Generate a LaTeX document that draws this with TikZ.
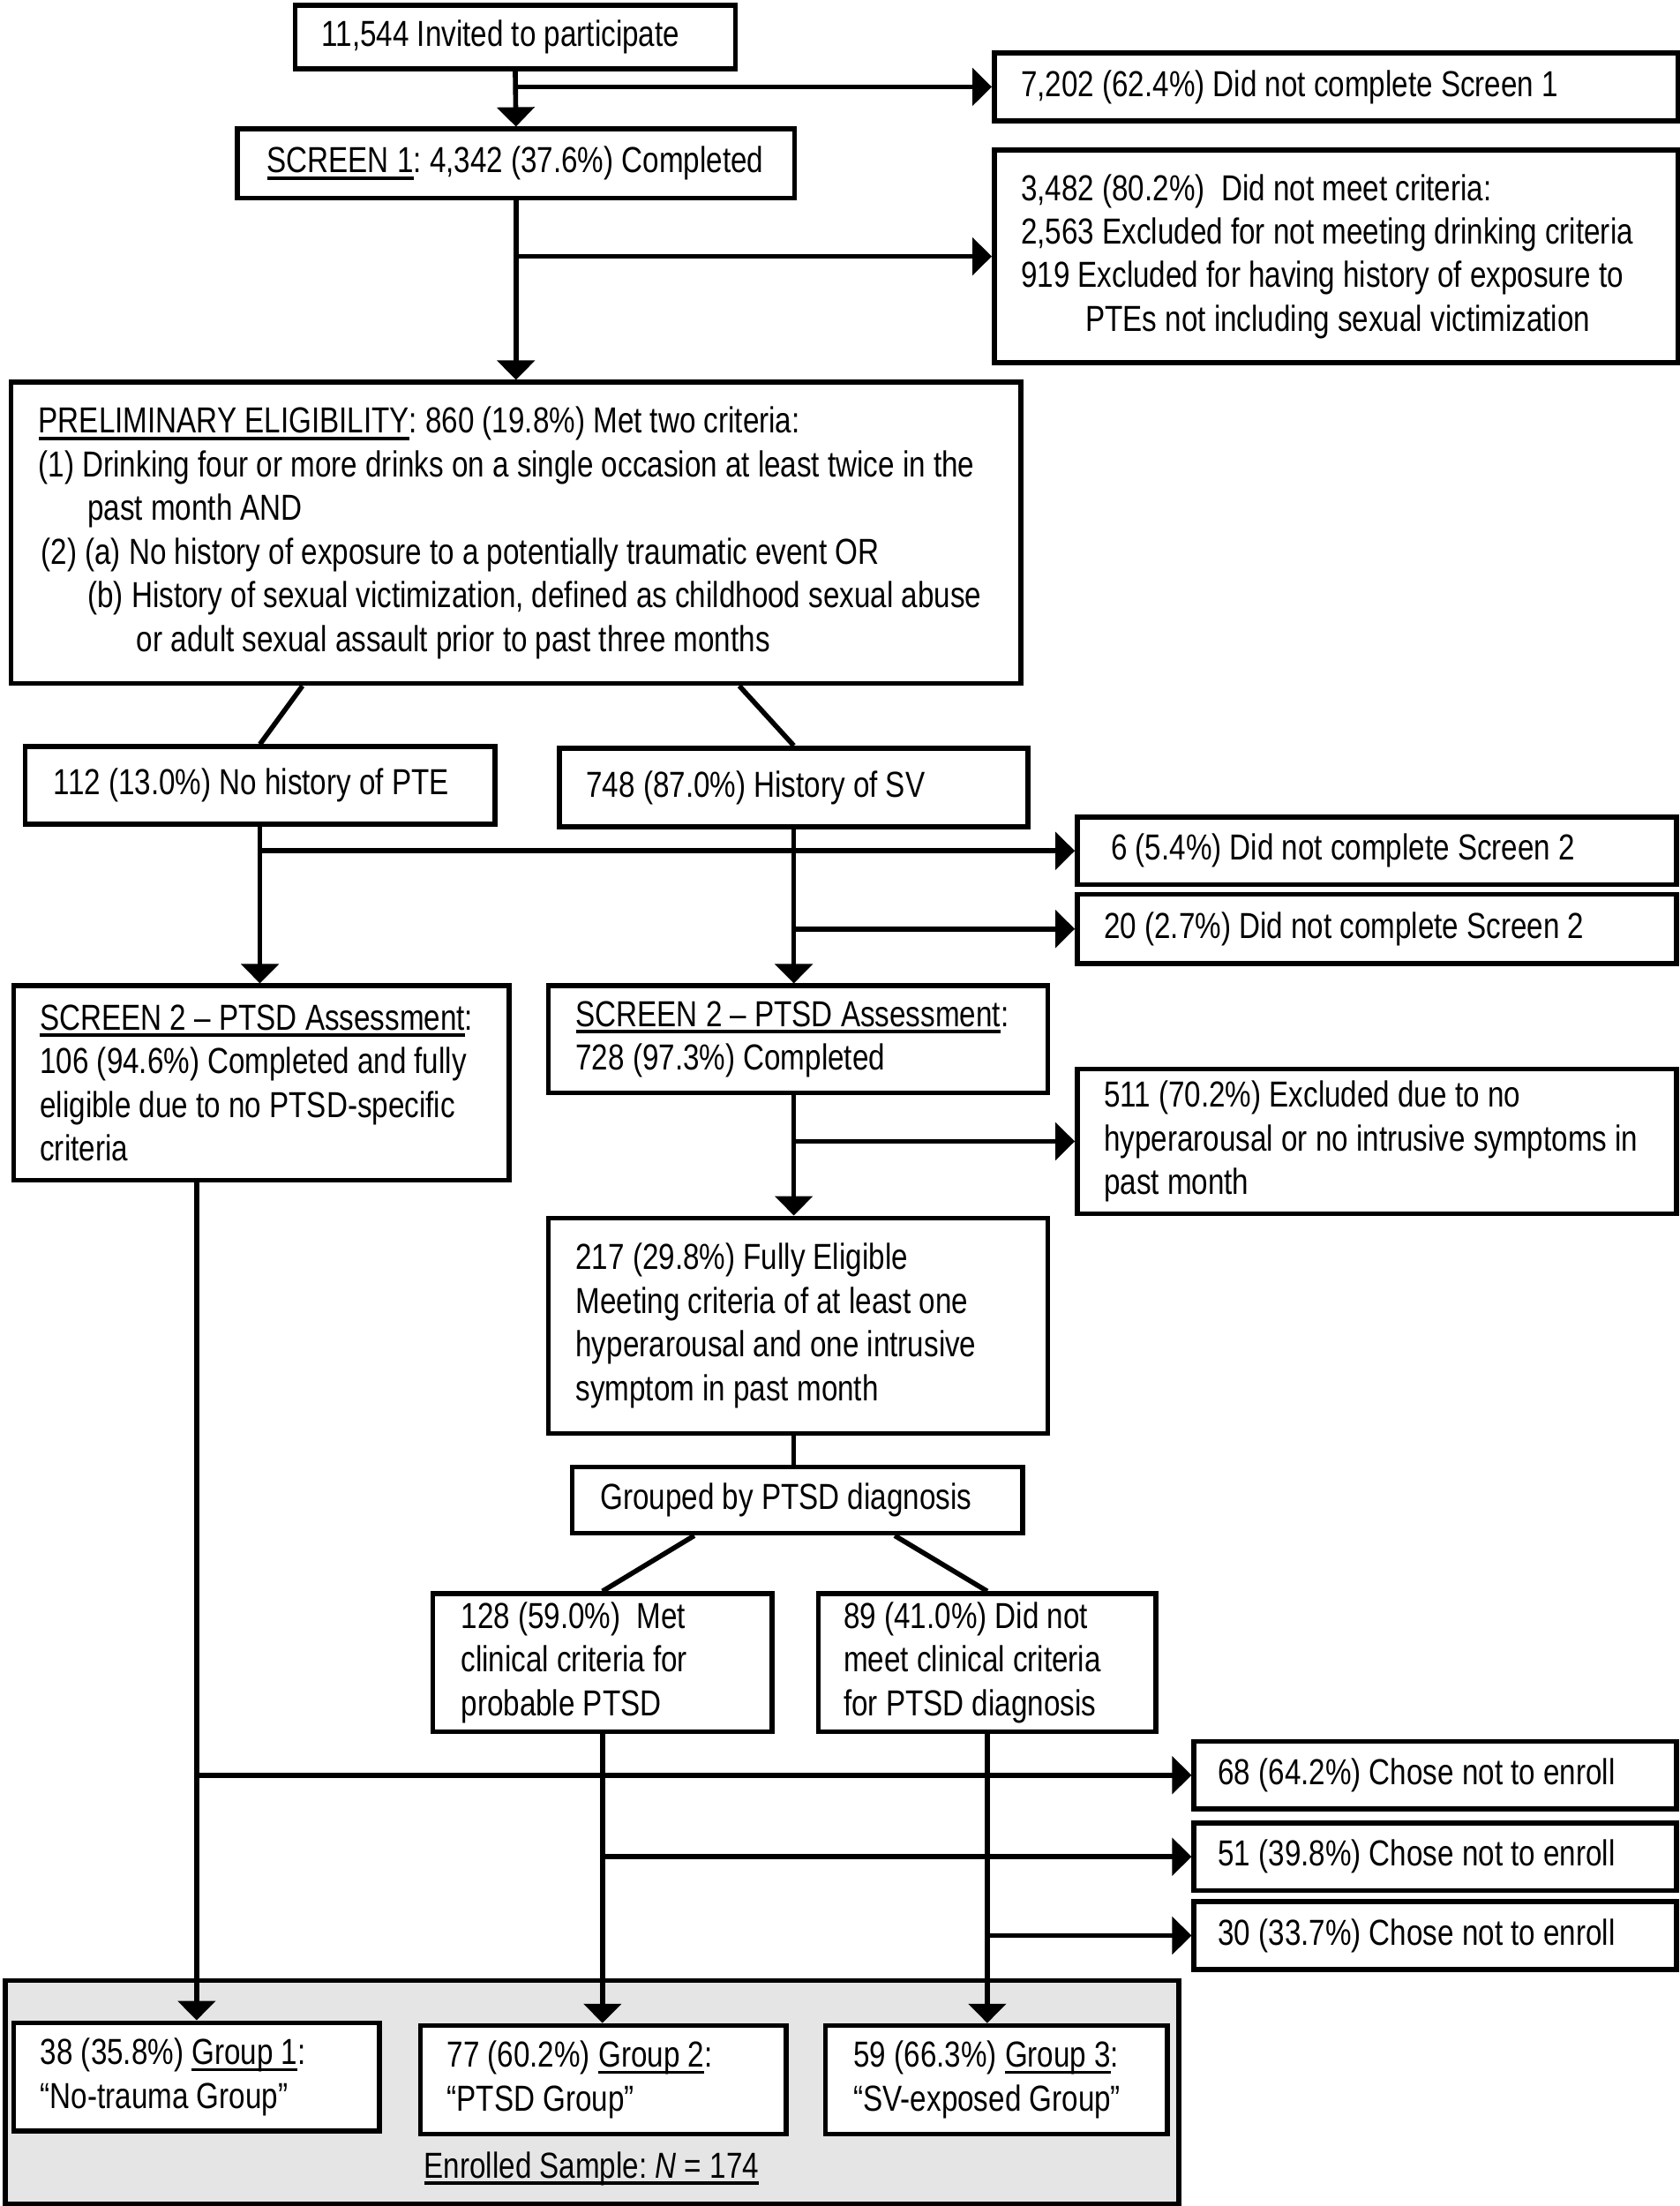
\documentclass[tikz,border=0pt]{standalone}
\usepackage{fontspec}
\setmainfont[FakeStretch=0.81]{Liberation Sans}
\usetikzlibrary{arrows.meta,calc}
\def\myu{0.39865}
\newcommand\fs{\fontsize{10.25pt}{12.36pt}\selectfont}
\newcommand\sps{\spaceskip=2.3pt\relax\xspaceskip=2.3pt\relax}
\newcommand\uln[1]{\setbox0\hbox{#1}\rlap{\rule[-1.9pt]{\wd0}{0.9pt}}\box0}
\tikzset{
  box/.style={draw, line width=1.4pt, fill=white, anchor=north west, inner ysep=0pt, align=left, font=\fs},
  con/.style={line width=1.4pt},
  arr/.style={line width=1.4pt, -{Triangle[length=5.5pt,width=10.5pt]}}
}
% name, x1, y1, x2, y2, text-left, extra options, text
\newcommand\bx[8]{%
  \pgfmathsetmacro\bw{(#4-#2)*\myu}%
  \pgfmathsetmacro\bh{(#5-#3)*\myu}%
  \pgfmathsetmacro\bp{(#6-#2)*\myu}%
  \pgfmathsetmacro\bt{(#4-#2-2*(#6-#2))*\myu}%
  \node[box,#7,minimum width=\bw pt,minimum height=\bh pt,inner xsep=\bp pt,text width=\bt pt] (#1) at (#2,#3) {\sps #8};%
}
\begin{document}
\begin{tikzpicture}[x=0.39865pt,y=-0.39865pt]
\useasboundingbox (0,0) rectangle (1194,1568);
\fill[white] (0,0) rectangle (1194,1568);

\bx{B1}{208}{2}{521}{47}{227}{}{\mbox{11,544 Invited to participate}}
\bx{B2}{705}{36}{1191}{84}{724}{}{\mbox{7,202 (62.4\%) Did not complete Screen 1}}
\bx{B3}{167}{90}{563}{139}{188}{}{\mbox{\uln{SCREEN 1}: 4,342 (37.6\%) Completed}}
\bx{B4}{705}{105}{1191}{256}{724}{}{\mbox{3,482 (80.2\%)\ \ Did not meet criteria:}\\\mbox{2,563 Excluded for not meeting drinking criteria}\\\mbox{919 Excluded for having history of exposure to}\\\mbox{\hspace*{18.3pt}PTEs not including sexual victimization}}
\bx{B5}{6}{270}{724}{484}{25.7}{}{\mbox{\uln{PRELIMINARY ELIGIBILITY}: 860 (19.8\%) Met two criteria:}\\\mbox{(1) Drinking four or more drinks on a single occasion at least twice in the}\\\mbox{\hspace*{13.9pt}past month AND}\\\mbox{\hspace*{0.7pt}(2) (a) No history of exposure to a potentially traumatic event OR}\\\mbox{\hspace*{13.9pt}(b) History of sexual victimization, defined as childhood sexual abuse}\\\mbox{\hspace*{27.8pt}or adult sexual assault prior to past three months}}
\bx{B6}{16}{529}{350}{584}{36.5}{}{\mbox{112 (13.0\%) No history of PTE}}
\bx{B7}{396}{530}{729}{586}{415}{}{\mbox{748 (87.0\%) History of SV}}
\bx{B8}{764}{579}{1190}{627}{788}{}{\mbox{6 (5.4\%) Did not complete Screen 2}}
\bx{B9}{764}{634}{1190}{683}{783}{}{\mbox{20 (2.7\%) Did not complete Screen 2}}
\bx{B10}{8}{699}{360}{837}{26.7}{}{\mbox{\uln{SCREEN 2 – PTSD Assessment}:}\\\mbox{106 (94.6\%) Completed and fully}\\\mbox{eligible due to no PTSD-specific}\\\mbox{criteria}}
\bx{B11}{388}{699}{743}{775}{407.5}{}{\mbox{\uln{SCREEN 2 – PTSD Assessment}:}\\\mbox{728 (97.3\%) Completed}}
\bx{B12}{764}{758}{1190}{861}{783}{}{\mbox{511 (70.2\%) Excluded due to no}\\\mbox{hyperarousal or no intrusive symptoms in}\\\mbox{past month}}
\bx{B13}{388}{864}{743}{1017}{407.5}{}{\mbox{217 (29.8\%) Fully Eligible}\\\mbox{Meeting criteria of at least one}\\\mbox{hyperarousal and one intrusive}\\\mbox{symptom in past month}}
\bx{B14}{405}{1041}{725}{1088}{425}{}{\mbox{Grouped by PTSD diagnosis}}
\bx{B15}{306}{1131}{547}{1229}{326}{}{\mbox{128 (59.0\%)\ \ Met}\\\mbox{clinical criteria for}\\\mbox{probable PTSD}}
\bx{B16}{580}{1131}{820}{1229}{598}{}{\mbox{89 (41.0\%) Did not}\\\mbox{meet clinical criteria}\\\mbox{for PTSD diagnosis}}
\bx{B17}{847}{1236}{1190}{1284}{864}{}{\mbox{68 (64.2\%) Chose not to enroll}}
\bx{B18}{847}{1294}{1190}{1342}{864}{}{\mbox{51 (39.8\%) Chose not to enroll}}
\bx{B19}{847}{1350}{1190}{1398}{864}{}{\mbox{30 (33.7\%) Chose not to enroll}}
\bx{EN}{2}{1406}{836}{1565}{20}{fill=black!10}{}
\bx{G1}{8}{1436}{268}{1513}{27}{}{\mbox{38 (35.8\%) \uln{Group 1}:}\\\mbox{“No-trauma Group”}}
\bx{G2}{297}{1438}{557}{1515}{316}{}{\mbox{77 (60.2\%) \uln{Group 2}:}\\\mbox{“PTSD Group”}}
\bx{G3}{585}{1438}{828}{1515}{605}{}{\mbox{59 (66.3\%) \uln{Group 3}:}\\\mbox{“SV-exposed Group”}}
\node[font=\fs, anchor=base west, inner sep=0pt] (enr) at (301,1548) {\sps\uln{Enrolled Sample: \textit{N} = 174}};

% connectors
\draw[arr] (B1.south) -- (B3.north);
\draw[arr] (B1.south |- B2.west) -- (B2.west);
\draw[arr] (B3.south) -- (B5.north);
\draw[arr] (B3.south |- B4.west) -- (B4.west);
\draw[con] ($(B5.south west)+(209,0)$) -- (B6.north);
\draw[con] ($(B5.south west)+(519.5,0)$) -- (B7.north);
\draw[arr] (B6.south) -- (B6.south |- B10.north);
\draw[arr] (B6.south |- B8.west) -- (B8.west);
\draw[arr] (B7.south) -- (B7.south |- B11.north);
\draw[arr] (B7.south |- B9.west) -- (B9.west);
\draw[arr] (B7.south |- B11.south) -- (B7.south |- B13.north);
\draw[arr] (B7.south |- B12.west) -- (B12.west);
\draw[con] (B7.south |- B13.south) -- (B7.south |- B14.north);
\draw[con] ($(B14.south west)+(88.5,0)$) -- (B15.north);
\draw[con] ($(B14.south west)+(231,0)$) -- (B16.north);
\draw[arr] (G1.north |- B10.south) -- (G1.north);
\draw[arr] (G1.north |- B17.west) -- (B17.west);
\draw[arr] (B15.south) -- (B15.south |- G2.north);
\draw[arr] (B15.south |- B18.west) -- (B18.west);
\draw[arr] (B16.south) -- (B16.south |- G3.north);
\draw[arr] (B16.south |- B19.west) -- (B19.west);
\end{tikzpicture}
\end{document}
